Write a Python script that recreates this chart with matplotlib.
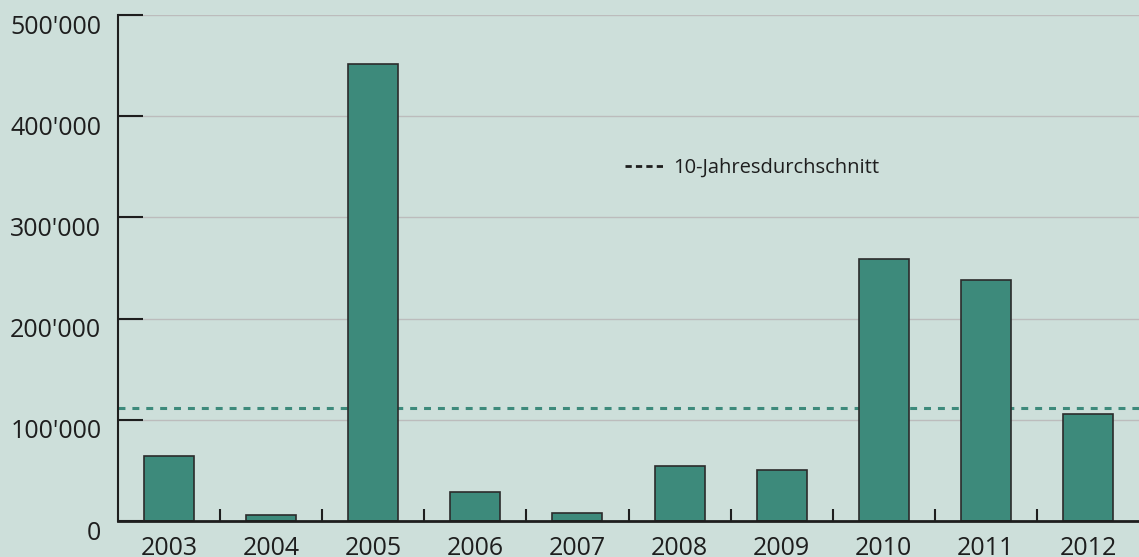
import matplotlib
matplotlib.use("Agg")
import matplotlib.pyplot as plt
from matplotlib.lines import Line2D
from matplotlib.transforms import ScaledTranslation

years = ["2003", "2004", "2005", "2006", "2007", "2008", "2009", "2010", "2011", "2012"]
values = [64000, 6000, 452000, 28500, 8000, 54500, 50500, 259000, 238000, 106000]
avg_10y = 112000
y_ticks = [0, 100000, 200000, 300000, 400000, 500000]
y_labels = ["0", "100'000", "200'000", "300'000", "400'000", "500'000"]
legend_label = "10-Jahresdurchschnitt"

BG = "#cddfda"
TEAL = "#3d8a7b"
INK = "#1e1e1e"

plt.rcParams["font.family"] = ["Open Sans", "DejaVu Sans"]
plt.rcParams["lines.scale_dashes"] = False

fig = plt.figure(figsize=(11.39, 5.57), dpi=100, facecolor=BG)
ax = fig.add_axes([118 / 1139, 1 - 521 / 557, 1 - 118 / 1139, (521 - 15) / 557])
ax.set_facecolor(BG)

x = list(range(len(years)))
ax.set_axisbelow(True)
ax.grid(axis="y", color="#bcbcbc", linewidth=1.0)
ax.axhline(avg_10y, color=TEAL, linewidth=2.2, linestyle=(0, (5, 5)), zorder=1.5)
ax.bar(x, values, width=0.49, color=TEAL, edgecolor="#2b2b2b", linewidth=1.2, zorder=2)

ax.set_xlim(-0.5, len(years) - 0.5)
ax.set_ylim(0, 500000)

for s in ["top", "right"]:
    ax.spines[s].set_visible(False)
ax.spines["left"].set_linewidth(1.5)
ax.spines["left"].set_color(INK)
ax.spines["bottom"].set_linewidth(2.0)
ax.spines["bottom"].set_color(INK)

ax.set_yticks(y_ticks)
ax.set_yticklabels(y_labels)
ax.tick_params(axis="y", direction="in", length=18, width=1.5, color=INK,
               pad=12, labelsize=18, labelcolor=INK)
for lbl in ax.get_yticklabels():
    lbl.set_transform(lbl.get_transform() + ScaledTranslation(0, -9 / 100, fig.dpi_scale_trans))

ax.set_xticks(x)
ax.set_xticklabels(years)
ax.tick_params(axis="x", which="major", length=0, pad=11, labelsize=18, labelcolor=INK)
ax.set_xticks([i + 0.5 for i in x[:-1]], minor=True)
ax.tick_params(axis="x", which="minor", direction="in", length=8.5, width=1.5, color=INK)

handle = Line2D([], [], color=INK, linewidth=2.0, linestyle=(0, (4.5, 3)))
ax.legend([handle], [legend_label], loc="center left",
          bbox_to_anchor=(625 / 1139, 1 - 168 / 557), bbox_transform=fig.transFigure,
          frameon=False, fontsize=14.5, handlelength=1.9, handletextpad=0.5,
          borderpad=0, borderaxespad=0, labelcolor=INK)

fig.savefig("out.png", dpi=100, facecolor=BG)
